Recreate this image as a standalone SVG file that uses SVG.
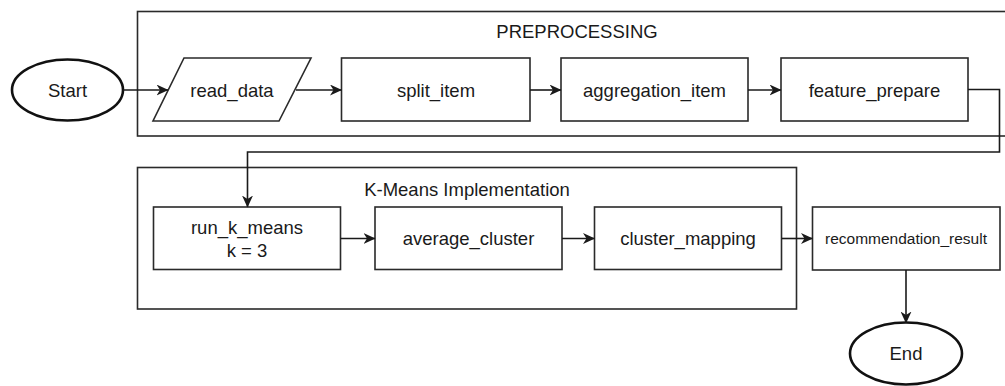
<svg xmlns="http://www.w3.org/2000/svg" width="1005" height="386" viewBox="0 0 1005 386">
<defs>
<marker id="arr" viewBox="0 0 12 11" refX="11.5" refY="5.5" markerWidth="12" markerHeight="11" markerUnits="userSpaceOnUse" orient="auto">
<path d="M0,0 L12,5.5 L0,11 L3.5,5.5 Z" fill="#1a1a1a"/>
</marker>
</defs>
<style>
.box{fill:#fff;stroke:#2a2a2a;stroke-width:1.6}
.cont{fill:none;stroke:#2a2a2a;stroke-width:1.6}
.term{fill:#fff;stroke:#111;stroke-width:2.6}
.t{font-family:"Liberation Sans",Arial,sans-serif;font-size:18.5px;fill:#1a1a1a;text-anchor:middle}
.ts{font-family:"Liberation Sans",Arial,sans-serif;font-size:15.5px;fill:#1a1a1a;text-anchor:middle}
.c{fill:none;stroke:#1a1a1a;stroke-width:1.6}
</style>
<rect width="1005" height="386" fill="#fff"/>
<g id="preprocessing">
<rect class="cont" x="137.5" y="11.5" width="880" height="124.5"/>
<text class="t" x="577" y="38">PREPROCESSING</text>
</g>
<g id="kmeans">
<rect class="cont" x="137.5" y="167.5" width="659" height="141.5"/>
<text class="t" x="467" y="196">K-Means Implementation</text>
</g>
<g id="start">
<ellipse class="term" cx="67.5" cy="90" rx="55.5" ry="30.5"/>
<text class="t" x="67.5" y="96.5">Start</text>
</g>
<g id="read_data">
<polygon class="box" points="184,58 311,58 279,121 153,121"/>
<text class="t" x="232" y="96.5">read_data</text>
</g>
<g id="split_item">
<rect class="box" x="341.5" y="58" width="188.5" height="63"/>
<text class="t" x="436" y="96.5">split_item</text>
</g>
<g id="aggregation_item">
<rect class="box" x="561" y="58" width="187" height="63"/>
<text class="t" x="654.5" y="96.5">aggregation_item</text>
</g>
<g id="feature_prepare">
<rect class="box" x="781" y="58" width="187" height="63"/>
<text class="t" x="874.5" y="96.5">feature_prepare</text>
</g>
<g id="run_k_means">
<rect class="box" x="153.5" y="207" width="187" height="62.5"/>
<text class="t" x="247" y="233.5">run_k_means</text>
<text class="t" x="247" y="257">k = 3</text>
</g>
<g id="average_cluster">
<rect class="box" x="375" y="207" width="187" height="62.5"/>
<text class="t" x="468.5" y="245">average_cluster</text>
</g>
<g id="cluster_mapping">
<rect class="box" x="594.5" y="207" width="187" height="62.5"/>
<text class="t" x="688" y="245">cluster_mapping</text>
</g>
<g id="recommendation_result">
<rect class="box" x="812.5" y="207" width="187.5" height="63"/>
<text class="ts" x="906" y="244">recommendation_result</text>
</g>
<g id="end">
<ellipse class="term" cx="906" cy="353.5" rx="56" ry="31"/>
<text class="t" x="906" y="360">End</text>
</g>
<g id="connectors">
<path class="c" d="M123,90 H168" marker-end="url(#arr)"/>
<path class="c" d="M296,90 H341.5" marker-end="url(#arr)"/>
<path class="c" d="M530,90 H561" marker-end="url(#arr)"/>
<path class="c" d="M748,90 H781" marker-end="url(#arr)"/>
<path class="c" d="M968,89.5 H999.5 V152 H247.5 V207" marker-end="url(#arr)"/>
<path class="c" d="M340.5,238.5 H375" marker-end="url(#arr)"/>
<path class="c" d="M562,238.5 H594.5" marker-end="url(#arr)"/>
<path class="c" d="M781.5,238.5 H812.5" marker-end="url(#arr)"/>
<path class="c" d="M906,270 V323" marker-end="url(#arr)"/>
</g>
</svg>
